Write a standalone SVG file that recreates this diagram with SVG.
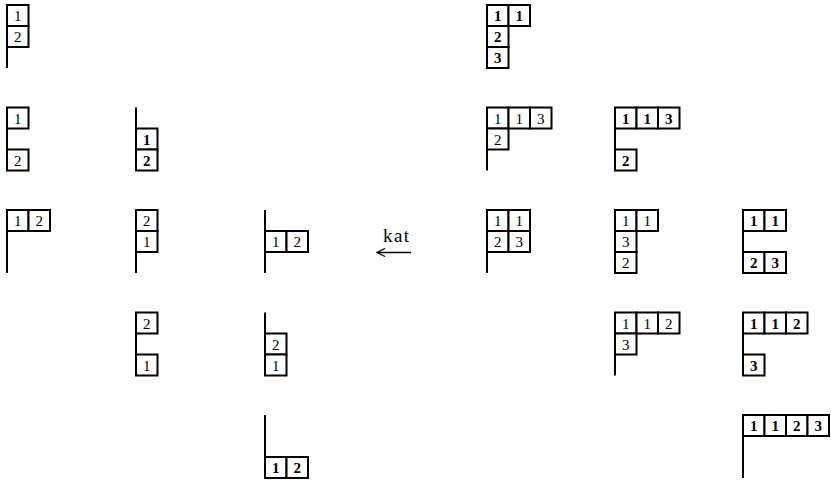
<svg xmlns="http://www.w3.org/2000/svg" width="831" height="483" viewBox="0 0 831 483" font-family="Liberation Serif, Times New Roman, serif">
<style>
.c{fill:#fff;stroke:#000;stroke-width:2}
.ax{stroke:#000;stroke-width:2;fill:none}
.n{font-family:"Liberation Serif",serif;font-size:15px;text-anchor:middle;fill:#000}
.b{font-weight:bold}
.arr{stroke:#000;stroke-width:1.3;fill:none}
.lbl{font-family:"Liberation Serif",serif;font-size:19px;fill:#000}
</style>
<defs>
<marker id="ah" markerWidth="10" markerHeight="10" refX="9" refY="5" orient="auto" markerUnits="userSpaceOnUse">
<path d="M1,1 L9,5 L1,9" class="arr"/>
</marker>
</defs>

<!-- Row 1 -->
<g id="t1a" transform="translate(7,5)">
<line class="ax" x1="0" y1="0" x2="0" y2="63"/>
<rect class="c" x="0" y="0" width="21.5" height="21"/><text class="n" x="10.75" y="16">1</text>
<rect class="c" x="0" y="21" width="21.5" height="21"/><text class="n" x="10.75" y="37">2</text>
</g>
<g id="t1r" transform="translate(487,5)">
<rect class="c" x="0" y="0" width="21.5" height="21"/><text class="n b" x="10.75" y="16">1</text>
<rect class="c" x="21.5" y="0" width="21.5" height="21"/><text class="n b" x="32.25" y="16">1</text>
<rect class="c" x="0" y="21" width="21.5" height="21"/><text class="n b" x="10.75" y="37">2</text>
<rect class="c" x="0" y="42" width="21.5" height="21"/><text class="n b" x="10.75" y="58">3</text>
</g>

<!-- Row 2 -->
<g id="t2a" transform="translate(7,107.5)">
<line class="ax" x1="0" y1="0" x2="0" y2="63"/>
<rect class="c" x="0" y="0" width="21.5" height="21"/><text class="n" x="10.75" y="16">1</text>
<rect class="c" x="0" y="42" width="21.5" height="21"/><text class="n" x="10.75" y="58">2</text>
</g>
<g id="t2b" transform="translate(136,107.5)">
<line class="ax" x1="0" y1="0" x2="0" y2="63"/>
<rect class="c" x="0" y="21" width="21.5" height="21"/><text class="n b" x="10.75" y="37">1</text>
<rect class="c" x="0" y="42" width="21.5" height="21"/><text class="n b" x="10.75" y="58">2</text>
</g>
<g id="t2r" transform="translate(487,107.5)">
<line class="ax" x1="0" y1="0" x2="0" y2="63"/>
<rect class="c" x="0" y="0" width="21.5" height="21"/><text class="n" x="10.75" y="16">1</text>
<rect class="c" x="21.5" y="0" width="21.5" height="21"/><text class="n" x="32.25" y="16">1</text>
<rect class="c" x="43" y="0" width="21.5" height="21"/><text class="n" x="53.75" y="16">3</text>
<rect class="c" x="0" y="21" width="21.5" height="21"/><text class="n" x="10.75" y="37">2</text>
</g>
<g id="t2s" transform="translate(615,107.5)">
<line class="ax" x1="0" y1="0" x2="0" y2="63"/>
<rect class="c" x="0" y="0" width="21.5" height="21"/><text class="n b" x="10.75" y="16">1</text>
<rect class="c" x="21.5" y="0" width="21.5" height="21"/><text class="n b" x="32.25" y="16">1</text>
<rect class="c" x="43" y="0" width="21.5" height="21"/><text class="n b" x="53.75" y="16">3</text>
<rect class="c" x="0" y="42" width="21.5" height="21"/><text class="n b" x="10.75" y="58">2</text>
</g>

<!-- Row 3 -->
<g id="t3a" transform="translate(7,210)">
<line class="ax" x1="0" y1="0" x2="0" y2="63"/>
<rect class="c" x="0" y="0" width="21.5" height="21"/><text class="n" x="10.75" y="16">1</text>
<rect class="c" x="21.5" y="0" width="21.5" height="21"/><text class="n" x="32.25" y="16">2</text>
</g>
<g id="t3b" transform="translate(136,210)">
<line class="ax" x1="0" y1="0" x2="0" y2="63"/>
<rect class="c" x="0" y="0" width="21.5" height="21"/><text class="n" x="10.75" y="16">2</text>
<rect class="c" x="0" y="21" width="21.5" height="21"/><text class="n" x="10.75" y="37">1</text>
</g>
<g id="t3c" transform="translate(265,210)">
<line class="ax" x1="0" y1="0" x2="0" y2="63"/>
<rect class="c" x="0" y="21" width="21.5" height="21"/><text class="n" x="10.75" y="37">1</text>
<rect class="c" x="21.5" y="21" width="21.5" height="21"/><text class="n" x="32.25" y="37">2</text>
</g>
<g id="t3r" transform="translate(487,210)">
<line class="ax" x1="0" y1="0" x2="0" y2="63"/>
<rect class="c" x="0" y="0" width="21.5" height="21"/><text class="n" x="10.75" y="16">1</text>
<rect class="c" x="21.5" y="0" width="21.5" height="21"/><text class="n" x="32.25" y="16">1</text>
<rect class="c" x="0" y="21" width="21.5" height="21"/><text class="n" x="10.75" y="37">2</text>
<rect class="c" x="21.5" y="21" width="21.5" height="21"/><text class="n" x="32.25" y="37">3</text>
</g>
<g id="t3s" transform="translate(615,210)">
<line class="ax" x1="0" y1="0" x2="0" y2="63"/>
<rect class="c" x="0" y="0" width="21.5" height="21"/><text class="n" x="10.75" y="16">1</text>
<rect class="c" x="21.5" y="0" width="21.5" height="21"/><text class="n" x="32.25" y="16">1</text>
<rect class="c" x="0" y="21" width="21.5" height="21"/><text class="n" x="10.75" y="37">3</text>
<rect class="c" x="0" y="42" width="21.5" height="21"/><text class="n" x="10.75" y="58">2</text>
</g>
<g id="t3t" transform="translate(743,210)">
<line class="ax" x1="0" y1="0" x2="0" y2="63"/>
<rect class="c" x="0" y="0" width="21.5" height="21"/><text class="n b" x="10.75" y="16">1</text>
<rect class="c" x="21.5" y="0" width="21.5" height="21"/><text class="n b" x="32.25" y="16">1</text>
<rect class="c" x="0" y="42" width="21.5" height="21"/><text class="n b" x="10.75" y="58">2</text>
<rect class="c" x="21.5" y="42" width="21.5" height="21"/><text class="n b" x="32.25" y="58">3</text>
</g>

<!-- Row 4 -->
<g id="t4b" transform="translate(136,312.5)">
<line class="ax" x1="0" y1="0" x2="0" y2="63"/>
<rect class="c" x="0" y="0" width="21.5" height="21"/><text class="n" x="10.75" y="16">2</text>
<rect class="c" x="0" y="42" width="21.5" height="21"/><text class="n" x="10.75" y="58">1</text>
</g>
<g id="t4c" transform="translate(265,312.5)">
<line class="ax" x1="0" y1="0" x2="0" y2="63"/>
<rect class="c" x="0" y="21" width="21.5" height="21"/><text class="n" x="10.75" y="37">2</text>
<rect class="c" x="0" y="42" width="21.5" height="21"/><text class="n" x="10.75" y="58">1</text>
</g>
<g id="t4s" transform="translate(615,312.5)">
<line class="ax" x1="0" y1="0" x2="0" y2="63"/>
<rect class="c" x="0" y="0" width="21.5" height="21"/><text class="n" x="10.75" y="16">1</text>
<rect class="c" x="21.5" y="0" width="21.5" height="21"/><text class="n" x="32.25" y="16">1</text>
<rect class="c" x="43" y="0" width="21.5" height="21"/><text class="n" x="53.75" y="16">2</text>
<rect class="c" x="0" y="21" width="21.5" height="21"/><text class="n" x="10.75" y="37">3</text>
</g>
<g id="t4t" transform="translate(743,312.5)">
<line class="ax" x1="0" y1="0" x2="0" y2="63"/>
<rect class="c" x="0" y="0" width="21.5" height="21"/><text class="n b" x="10.75" y="16">1</text>
<rect class="c" x="21.5" y="0" width="21.5" height="21"/><text class="n b" x="32.25" y="16">1</text>
<rect class="c" x="43" y="0" width="21.5" height="21"/><text class="n b" x="53.75" y="16">2</text>
<rect class="c" x="0" y="42" width="21.5" height="21"/><text class="n b" x="10.75" y="58">3</text>
</g>

<!-- Row 5 -->
<g id="t5c" transform="translate(265,415)">
<line class="ax" x1="0" y1="0" x2="0" y2="63"/>
<rect class="c" x="0" y="42" width="21.5" height="21"/><text class="n b" x="10.75" y="58">1</text>
<rect class="c" x="21.5" y="42" width="21.5" height="21"/><text class="n b" x="32.25" y="58">2</text>
</g>
<g id="t5t" transform="translate(743,415)">
<line class="ax" x1="0" y1="0" x2="0" y2="63"/>
<rect class="c" x="0" y="0" width="21.5" height="21"/><text class="n b" x="10.75" y="16">1</text>
<rect class="c" x="21.5" y="0" width="21.5" height="21"/><text class="n b" x="32.25" y="16">1</text>
<rect class="c" x="43" y="0" width="21.5" height="21"/><text class="n b" x="53.75" y="16">2</text>
<rect class="c" x="64.5" y="0" width="21.5" height="21"/><text class="n b" x="75.25" y="16">3</text>
</g>

<!-- Connectors -->
<g id="connectors">
<line class="arr" x1="411" y1="252.5" x2="377" y2="252.5" marker-end="url(#ah)"/>
<text class="lbl" x="383" y="242" textLength="26">kat</text>
</g>
</svg>
